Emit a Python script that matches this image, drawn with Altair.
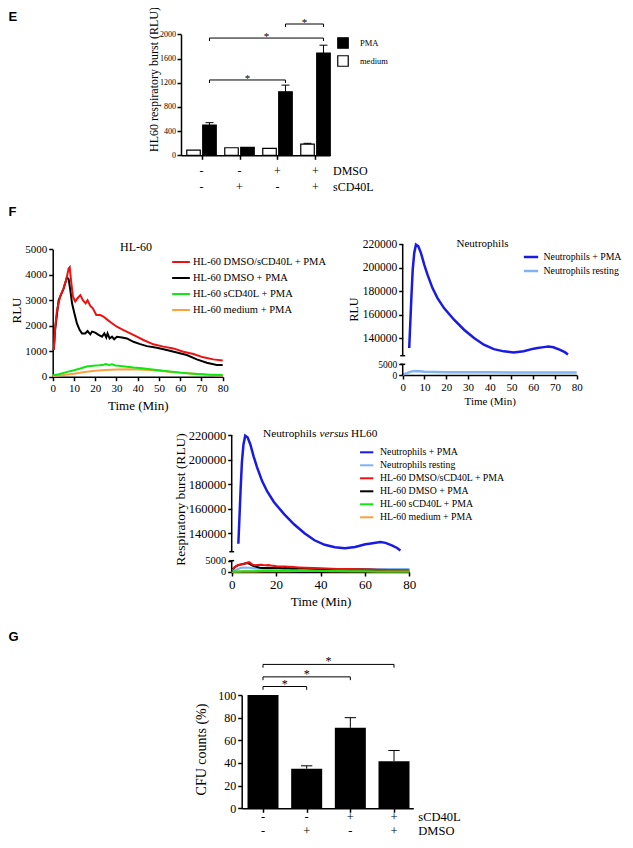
import altair as alt
import pandas as pd

OFF = 8
W, H = 617, 832
SERIF = "Liberation Serif"
SANS = "Liberation Sans"


def c(v):
    return v - OFF


# ---------------- data: panel E ----------------
e_groups = [1, 2, 3, 4]
e_dmso = ["-", "-", "+", "+"]
e_scd40l = ["-", "+", "-", "+"]
e_pma = [500, 130, 1050, 1690]
e_pma_top = [540, 130, 1160, 1820]
e_medium = [85, 125, 115, 185]
e_medium_top = [85, 125, 115, 198]
e_ticks = [0, 400, 800, 1200, 1600, 2000]
e_sig_from = [1, 1, 3]
e_sig_to = [3, 4, 4]
e_sig_level = [1245, 1938, 2170]
e_treatments = ["PMA", "medium"]
e_treat_colors = ["black", "white"]

# ---------------- data: panel F (HL-60) ----------------
hl_labels = ["HL-60 DMSO/sCD40L + PMA", "HL-60 DMSO + PMA", "HL-60 sCD40L + PMA", "HL-60 medium + PMA"]
hl_colors = ["#ee1111", "#000000", "#11e611", "#ffa040"]
red_t = [0.5, 1.2, 2, 3.5, 5, 6.5, 7.5, 8, 8.6, 9.5, 10.6, 11.7, 13, 14.2, 15.5, 16.4, 17.7, 18.9, 20.5,
         22.4, 23.9, 25.5, 27.9, 30.2, 33.3, 36.5, 39.6, 42.7, 47.4, 52.1, 56.8, 61.5, 66.2, 70.9, 75.6, 80]
red_v = [1050, 1950, 2600, 3150, 3450, 3850, 4250, 4300, 3800, 3150, 2950, 3080, 3200, 3000, 2880, 3000,
         2780, 2680, 2420, 2420, 2360, 2250, 2100, 1960, 1830, 1700, 1570, 1440, 1270, 1180, 1110, 980,
         890, 760, 680, 640]
black_t = [0.5, 1.2, 2.8, 5.2, 6.7, 7.5, 8.3, 9.1, 10.2, 11.4, 12.7, 13.8, 15.3, 16.4, 17.7, 18.5, 20,
           21.6, 23.2, 24.3, 25.2, 25.8, 26.8, 27.9, 28.9, 30.2, 32.6, 34.9, 38, 41.2, 44.3, 49, 53.7,
           58.4, 63.1, 67.8, 72.5, 77.2, 80]
black_v = [1050, 1900, 3000, 3470, 3900, 3830, 3400, 2880, 2490, 2090, 1830, 1700, 1700, 1790, 1660,
           1770, 1730, 1640, 1570, 1700, 1540, 1700, 1500, 1570, 1470, 1570, 1540, 1500, 1370, 1280,
           1200, 1140, 1050, 950, 850, 680, 550, 460, 460]
green_t = [0, 3, 6, 10, 13, 16, 19, 22, 24, 25, 26.5, 28, 29.5, 31, 34, 38, 42, 47, 53, 60, 66, 72, 80]
green_v = [60, 100, 170, 250, 320, 400, 430, 450, 470, 500, 460, 490, 440, 430, 400, 360, 330, 280,
           220, 160, 120, 90, 70]
orange_t = [0, 5, 10, 15, 20, 25, 30, 35, 40, 45, 50, 55, 60, 65, 70, 75, 80]
orange_v = [30, 70, 120, 180, 230, 260, 280, 290, 280, 260, 230, 190, 160, 130, 100, 70, 50]

# ---------------- data: panel F (neutrophils) ----------------
neu_labels = ["Neutrophils + PMA", "Neutrophils resting"]
neu_colors = ["#1a1ae6", "#80b4f2"]
pma_t = [3.0, 4.0, 4.6, 5.3, 6.1, 7.2, 8.4, 9.9, 11.4, 13.7, 16, 19, 23.6, 28.2, 32.8, 37.3, 41.9, 46.5,
         51, 55.6, 60.2, 62, 64.8, 67, 69.3, 72.4, 74.5, 76]
pma_v = [131500, 175000, 198000, 212300, 219400, 218000, 212300, 202400, 193900, 182500, 174000, 165500,
         155600, 147100, 140000, 134300, 130600, 128700, 127800, 128800, 131000, 131500, 132300, 132800,
         132200, 130000, 128000, 126000]
rest_t = [0, 2, 4, 6, 8, 10, 15, 20, 30, 40, 50, 60, 70, 80]
rest_v = [200, 900, 1700, 1900, 1800, 1500, 1350, 1300, 1250, 1250, 1200, 1200, 1200, 1200]
neu_ticks = [0, 5000, 140000, 160000, 180000, 200000, 220000]
neu_break = [5000, 125000]
neu_top = 220000

# ---------------- data: panel G ----------------
g_groups = [1, 2, 3, 4]
g_scd40l = ["-", "-", "+", "+"]
g_dmso = ["-", "+", "-", "+"]
g_cfu = [100, 35, 71, 41.5]
g_cfu_top = [100, 37.5, 80, 51]
g_sig_from = [1, 1, 1]
g_sig_to = [2, 3, 4]
g_sig_level = [107.5, 116, 127]

one = pd.DataFrame({"a": [0]})


def axis(**kw):
    base = dict(domainColor="black", domainWidth=1.5, tickColor="black", tickWidth=1.5,
                tickSize=4, labelColor="black", labelFont=SERIF, titleFont=SERIF,
                titleColor="black", titleFontWeight="normal", grid=False, labelPadding=2,
                labelOverlap=False, labelFlush=False, format="d", titleBaseline="middle",
                titleLimit=1000)
    base.update(kw)
    return alt.Axis(**base)


def small_low(big, small):
    return {"condition": {"test": f"datum.value <= {neu_break[0]}", "value": small}, "value": big}


def text(t, x, y, size, font=SERIF, weight="normal", style="normal", align="center",
         color="black"):
    return alt.Chart(one).mark_text(
        text=t, font=font, fontSize=size, fontWeight=weight, fontStyle=style, align=align,
        baseline="middle", color=color).encode(x=alt.value(c(x)), y=alt.value(c(y)))


def bracket_layers(froms, tos, levels, shift, drop, xs, ys, star_size, star_dy):
    rows = []
    for a, b, lv in zip(froms, tos, levels):
        x1, x2 = a + shift, b + shift
        rows.append(dict(x1=x1, x2=x2, xm=(x1 + x2) / 2, yv=lv, yd=lv - drop))
    df = pd.DataFrame(rows)
    base = alt.Chart(df)
    hor = base.mark_rule(color="black", strokeWidth=1).encode(
        x=alt.X("x1:Q", scale=xs, axis=None), x2="x2:Q", y=alt.Y("yv:Q", scale=ys, axis=None))
    lt = base.mark_rule(color="black", strokeWidth=1).encode(
        x=alt.X("x1:Q", scale=xs, axis=None), y=alt.Y("yv:Q", scale=ys, axis=None), y2="yd:Q")
    rt = base.mark_rule(color="black", strokeWidth=1).encode(
        x=alt.X("x2:Q", scale=xs, axis=None), y=alt.Y("yv:Q", scale=ys, axis=None), y2="yd:Q")
    st = base.mark_text(text="*", font=SERIF, fontSize=star_size, baseline="alphabetic",
                        dy=star_dy, color="black").encode(
        x=alt.X("xm:Q", scale=xs, axis=None), y=alt.Y("yv:Q", scale=ys, axis=None))
    return [hor, lt, rt, st]


# =============== Panel E ===============
e_rows = []
for i, g in enumerate(e_groups):
    for tr, vals, tops, sh in [("medium", e_medium, e_medium_top, -0.21),
                               ("PMA", e_pma, e_pma_top, 0.21)]:
        cx = g + sh
        e_rows.append(dict(treat=tr, x1=cx - 0.178, x2=cx + 0.178, cx=cx, cl=cx - 0.105,
                           cr=cx + 0.105, v=vals[i], top=tops[i], base=0))
e_df = pd.DataFrame(e_rows)
e_err = e_df[e_df["top"] > e_df["v"]]
e_lab = pd.DataFrame({"g": e_groups, "dmso": e_dmso, "scd": e_scd40l})

exs = alt.Scale(domain=[0.4605, 4.3816], range=[c(181), c(330)], nice=False, zero=False)
eys = alt.Scale(domain=[0, 2000], range=[c(155.3), c(34.3)], nice=False, zero=False)

e_bars = alt.Chart(e_df).mark_rect(stroke="black", strokeWidth=1.2).encode(
    x=alt.X("x1:Q", scale=exs,
            axis=axis(orient="bottom", offset=c(155.3) - H, values=e_groups, labels=False,
                      title=None)),
    x2="x2:Q",
    y=alt.Y("v:Q", scale=eys,
            axis=axis(orient="left", offset=-c(181), values=e_ticks, labelFontSize=8,
                      labelPadding=1.5, title="HL60 respiratory burst (RLU)", titleFontSize=12,
                      titleX=-27.5, titleY=c(79))),
    y2="base:Q",
    fill=alt.Fill("treat:N", scale=alt.Scale(domain=e_treatments, range=e_treat_colors),
                  legend=alt.Legend(orient="none", legendX=c(337), legendY=c(37), title=None,
                                    direction="vertical", symbolType="square", symbolSize=110,
                                    symbolStrokeColor="black", symbolStrokeWidth=1.2,
                                    labelFont=SERIF, labelFontSize=8.5, labelColor="black",
                                    labelOffset=11, rowPadding=2, padding=0)),
)
e_stem = alt.Chart(e_err).mark_rule(color="black", strokeWidth=1).encode(
    x=alt.X("cx:Q", scale=exs, axis=None), y=alt.Y("v:Q", scale=eys, axis=None), y2="top:Q")
e_cap = alt.Chart(e_err).mark_rule(color="black", strokeWidth=1).encode(
    x=alt.X("cl:Q", scale=exs, axis=None), x2="cr:Q", y=alt.Y("top:Q", scale=eys, axis=None))
e_t1 = alt.Chart(e_lab).mark_text(font=SERIF, fontSize=12, baseline="middle", color="black").encode(
    x=alt.X("g:Q", scale=exs, axis=None), y=alt.value(c(171)), text="dmso:N")
e_t2 = alt.Chart(e_lab).mark_text(font=SERIF, fontSize=12, baseline="middle", color="black").encode(
    x=alt.X("g:Q", scale=exs, axis=None), y=alt.value(c(187)), text="scd:N")
layers_e = [e_bars, e_stem, e_cap, e_t1, e_t2] + bracket_layers(
    e_sig_from, e_sig_to, e_sig_level, 0.21, 50, exs, eys, 11, 2)


# =============== helpers for line panels ===============
def series_df(label, ts, vs):
    return pd.DataFrame({"series": label, "t": ts, "v": vs})


hl_series = {
    hl_labels[0]: series_df(hl_labels[0], red_t, red_v),
    hl_labels[1]: series_df(hl_labels[1], black_t, black_v),
    hl_labels[2]: series_df(hl_labels[2], green_t, green_v),
    hl_labels[3]: series_df(hl_labels[3], orange_t, orange_v),
}
neu_series = {
    neu_labels[0]: series_df(neu_labels[0], pma_t, pma_v),
    neu_labels[1]: series_df(neu_labels[1], rest_t, rest_v),
}


def line_layers(order, series, xs, ys, cs, legend, widths, xaxis, yaxis):
    out = []
    for k, name in enumerate(order):
        out.append(alt.Chart(series[name]).mark_line(strokeWidth=widths.get(name, 2)).encode(
            x=alt.X("t:Q", scale=xs, axis=xaxis if k == 0 else None),
            y=alt.Y("v:Q", scale=ys, axis=yaxis if k == 0 else None),
            color=alt.Color("series:N", scale=cs, legend=legend if k == 0 else None)))
    return out


# =============== Panel F1: HL-60 ===============
f1x = alt.Scale(domain=[0, 80], range=[c(52.7), c(222.7)], nice=False, zero=False)
f1y = alt.Scale(domain=[0, 5000], range=[c(376.7), c(249.3)], nice=False, zero=False)
f1c = alt.Scale(domain=hl_labels, range=hl_colors)
f1_leg = alt.Legend(orient="none", legendX=c(171), legendY=c(252), title=None,
                    direction="vertical", symbolType="stroke", symbolSize=313,
                    symbolStrokeWidth=2, labelFont=SERIF, labelFontSize=10.5,
                    labelColor="black", labelOffset=2, rowPadding=-4, padding=0, labelLimit=0)
f1_xa = axis(orient="bottom", offset=c(376.7) - H, values=list(range(0, 81, 10)),
             labelFontSize=11, title="Time (Min)", titleFontSize=13, titleY=29)
f1_ya = axis(orient="left", offset=-c(52.7), values=[0, 1000, 2000, 3000, 4000, 5000],
             labelFontSize=11, title="RLU", titleFontSize=13, titleX=-36, titleY=c(310))
layers_f1 = line_layers(
    [hl_labels[3], hl_labels[2], hl_labels[1], hl_labels[0]], hl_series, f1x, f1y, f1c,
    f1_leg, {}, f1_xa, f1_ya)


# =============== broken-axis helper ===============
def broken_axis_layers(xs, ys, cap):
    seg = pd.DataFrame({"x": [0, 0], "y0": [0, neu_break[1]], "y1": [neu_break[0], neu_top]})
    caps = pd.DataFrame({"xl": [-cap, -cap], "xr": [cap, cap], "y": neu_break})
    s = alt.Chart(seg).mark_rule(color="black", strokeWidth=1.5).encode(
        x=alt.X("x:Q", scale=xs, axis=None), y=alt.Y("y0:Q", scale=ys, axis=None), y2="y1:Q")
    k = alt.Chart(caps).mark_rule(color="black", strokeWidth=1.5).encode(
        x=alt.X("xl:Q", scale=xs, axis=None), x2="xr:Q", y=alt.Y("y:Q", scale=ys, axis=None))
    return [s, k]


neu_dom = [0, neu_break[0], neu_break[1], neu_top]

# =============== Panel F2: Neutrophils ===============
f2x = alt.Scale(domain=[0, 80], range=[c(402.7), c(576.7)], nice=False, zero=False)
f2y = alt.Scale(domain=neu_dom, range=[c(375), c(364.3), c(355.7), c(244)], nice=False,
                zero=False)
f2c = alt.Scale(domain=neu_labels, range=neu_colors)
f2_leg = alt.Legend(orient="none", legendX=c(522.5), legendY=c(248.5), title=None,
                    direction="vertical", symbolType="stroke", symbolSize=204,
                    symbolStrokeWidth=2.5, labelFont=SERIF, labelFontSize=9.8,
                    labelColor="black", labelOffset=4, rowPadding=-3, padding=0, labelLimit=0)
f2_xa = axis(orient="bottom", offset=c(375) - H, values=list(range(0, 81, 10)),
             labelFontSize=11, title="Time (Min)", titleFontSize=11, titleY=26)
f2_ya = axis(orient="left", offset=-c(402.7), values=neu_ticks, domain=False,
             labelFontSize=small_low(11.5, 9.5), title="RLU", titleFontSize=12,
             titleX=-49.4, titleY=c(309))
layers_f2 = line_layers([neu_labels[1], neu_labels[0]], neu_series, f2x, f2y, f2c, f2_leg,
                        {neu_labels[0]: 2.5, neu_labels[1]: 2.5}, f2_xa, f2_ya) + \
    broken_axis_layers(f2x, f2y, 1.15)

# =============== Panel F3: Neutrophils versus HL60 ===============
all_series = dict(neu_series)
all_series.update(hl_series)
all_labels = neu_labels + hl_labels
all_colors = neu_colors + hl_colors
f3x = alt.Scale(domain=[0, 80], range=[c(231.7), c(409.3)], nice=False, zero=False)
f3y = alt.Scale(domain=neu_dom, range=[c(571.7), c(560.7), c(551.7), c(435)], nice=False,
                zero=False)
f3c = alt.Scale(domain=all_labels, range=all_colors)
f3_leg = alt.Legend(orient="none", legendX=c(358.7), legendY=c(444.3), title=None,
                    direction="vertical", symbolType="stroke", symbolSize=177,
                    symbolStrokeWidth=2, labelFont=SERIF, labelFontSize=9.8,
                    labelColor="black", labelOffset=5.3, rowPadding=-3.2, padding=0, labelLimit=0)
f3_xa = axis(orient="bottom", offset=c(572) - H, values=[0, 20, 40, 60, 80],
             labelFontSize=13, title="Time (Min)", titleFontSize=13, titleY=29.7)
f3_ya = axis(orient="left", offset=-c(231.7), values=neu_ticks, domain=False,
             labelFontSize=small_low(12.5, 10.5), title="Respiratory burst (RLU)",
             titleFontSize=13.5, titleX=-51.5, titleY=c(499))
layers_f3 = line_layers([hl_labels[3], neu_labels[1], hl_labels[1], hl_labels[0], hl_labels[2],
                         neu_labels[0]], all_series, f3x, f3y, f3c, f3_leg, {neu_labels[0]: 2.5},
                        f3_xa, f3_ya) + broken_axis_layers(f3x, f3y, 1.1)

# =============== Panel G ===============
g_df = pd.DataFrame({"g": g_groups, "x1": [g - 0.355 for g in g_groups],
                     "x2": [g + 0.355 for g in g_groups], "cl": [g - 0.13 for g in g_groups],
                     "cr": [g + 0.13 for g in g_groups], "v": g_cfu, "top": g_cfu_top,
                     "base": [0] * 4, "scd": g_scd40l, "dmso": g_dmso})
g_err = g_df[g_df["top"] > g_df["v"]]
gxs = alt.Scale(domain=[0.512, 4.442], range=[c(241.7), c(413.3)], nice=False, zero=False)
gys = alt.Scale(domain=[0, 100], range=[c(808.3), c(695)], nice=False, zero=False)
g_bars = alt.Chart(g_df).mark_rect(color="black").encode(
    x=alt.X("x1:Q", scale=gxs,
            axis=axis(orient="bottom", offset=c(808.3) - H, values=g_groups, labels=False,
                      title=None)),
    x2="x2:Q",
    y=alt.Y("v:Q", scale=gys,
            axis=axis(orient="left", offset=-c(241.7), values=[0, 20, 40, 60, 80, 100],
                      labelFontSize=12, title="CFU counts (%)", titleFontSize=14,
                      titleX=-40, titleY=c(749))),
    y2="base:Q")
g_stem = alt.Chart(g_err).mark_rule(color="black", strokeWidth=1).encode(
    x=alt.X("g:Q", scale=gxs, axis=None), y=alt.Y("v:Q", scale=gys, axis=None), y2="top:Q")
g_cap = alt.Chart(g_err).mark_rule(color="black", strokeWidth=1).encode(
    x=alt.X("cl:Q", scale=gxs, axis=None), x2="cr:Q", y=alt.Y("top:Q", scale=gys, axis=None))
g_t1 = alt.Chart(g_df).mark_text(font=SERIF, fontSize=12.5, baseline="middle", color="black").encode(
    x=alt.X("g:Q", scale=gxs, axis=None), y=alt.value(c(817)), text="scd:N")
g_t2 = alt.Chart(g_df).mark_text(font=SERIF, fontSize=12.5, baseline="middle", color="black").encode(
    x=alt.X("g:Q", scale=gxs, axis=None), y=alt.value(c(831)), text="dmso:N")
layers_g = [g_bars, g_stem, g_cap, g_t1, g_t2] + bracket_layers(
    g_sig_from, g_sig_to, g_sig_level, 0, 2.9, gxs, gys, 12, 1)

# =============== annotations ===============
notes = [
    text("E", 8.5, 17, 13, font=SANS, weight="bold", align="left"),
    text("F", 8.5, 211.5, 13, font=SANS, weight="bold", align="left"),
    text("G", 8.5, 637, 13, font=SANS, weight="bold", align="left"),
    text("DMSO", 333, 171, 12, align="left"),
    text("sCD40L", 333, 187, 12, align="left"),
    text("sCD40L", 418.3, 817, 12.5, align="left"),
    text("DMSO", 418.3, 831, 12.5, align="left"),
    text("HL-60", 136, 247, 12),
    text("Neutrophils", 482.5, 244, 11),
    text("Neutrophils", 263, 434, 11.3, align="left"),
    text("versus", 319.5, 434, 11.3, style="italic", align="left"),
    text("HL60", 351, 434, 11.3, align="left"),
]

all_layers = layers_e + layers_f1 + layers_f2 + layers_f3 + layers_g + notes
chart = alt.layer(*all_layers).resolve_scale(
    x="independent", y="independent", color="independent", fill="independent"
).resolve_axis(x="independent", y="independent").resolve_legend(
    color="independent", fill="independent"
).properties(
    width=W, height=H, padding=0, autosize=alt.AutoSizeParams(type="none")
).configure_view(stroke=None)

chart.save("out.html", embed_options={"renderer": "svg", "actions": False})
